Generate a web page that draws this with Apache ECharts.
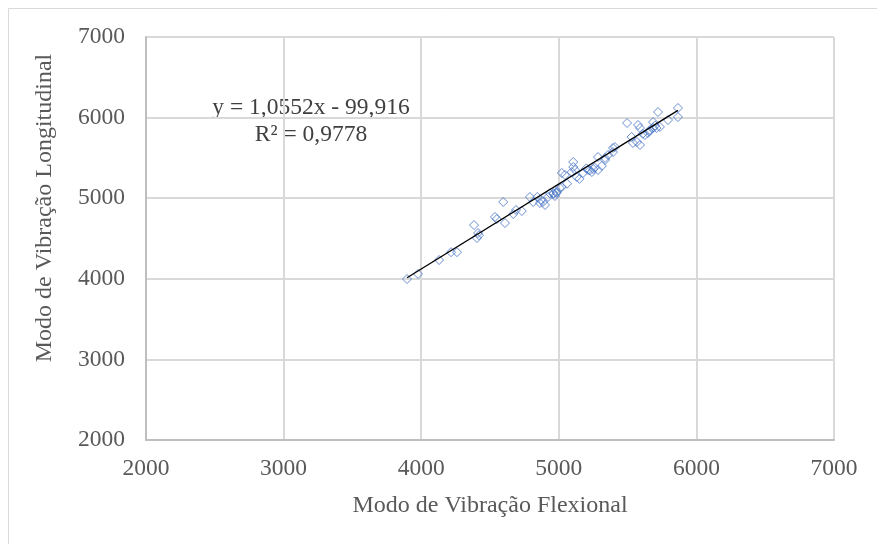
<!DOCTYPE html>
<html><head><meta charset="utf-8">
<script src="https://cdn.jsdelivr.net/npm/echarts@6/dist/echarts.min.js"></script>
<style>html,body{margin:0;padding:0;background:#fff}#c{width:877px;height:544px}</style>
</head><body><div id="c"></div>
<script>
const xTitle = 'Modo de Vibração Flexional';
const yTitle = 'Modo de Vibração Longitudinal';
const eqText = 'y = 1,0552x - 99,916';
const r2Text = 'R² = 0,9778';
const slope = 1.0552, intercept = -99.916;
const flexional = [3897,3977,4130,4217,4260,4384,4413,4405,4420,4536,4550,4596,4609,4669,4689,4731,4790,4814,4844,4863,4885,4900,4922,4960,4985,5008,4972,4960,4985,5022,5022,5045,5094,5105,5105,5118,5131,5176,5212,5240,5250,5285,5285,5313,5336,5358,5394,5408,5336,5394,5496,5529,5539,5568,5576,5590,5590,5626,5648,5663,5685,5685,5721,5735,5794,5866,5866,4870,4935,5060,5150,5200,5225,5260,5700,5710,5655,5610];
const longitudinal = [3997,4060,4233,4330,4330,4667,4568,4506,4540,4767,4742,4953,4692,4804,4854,4841,5015,4953,5015,4940,4953,4916,5015,5052,5065,5127,5027,5065,5077,5139,5313,5288,5325,5387,5449,5350,5263,5313,5350,5325,5362,5350,5511,5400,5499,5536,5573,5635,5474,5623,5933,5760,5685,5697,5908,5871,5660,5784,5809,5846,5871,5945,6069,5884,5970,6119,6007,4980,5060,5180,5240,5370,5345,5380,5900,5870,5830,5800];
const xMin = 2000, xMax = 7000, yMin = 2000, yMax = 7000, tickStep = 1000;

const pts = flexional.map((x,i)=>[x, longitudinal[i]]);
const fx0 = Math.min(...flexional), fx1 = Math.max(...flexional);
const trend = [[fx0, slope*fx0+intercept],[fx1, slope*fx1+intercept]];
const font = 'Liberation Serif';
const chart = echarts.init(document.getElementById('c'));
chart.setOption({
  animation:false,
  grid:{left:146,top:37,right:43,bottom:104,containLabel:false},
  graphic:[
    {type:'rect',shape:{x:8.5,y:8.5,width:900,height:560},style:{fill:'none',stroke:'#d9d9d9',lineWidth:1}},
    {type:'text',x:311,y:108,style:{text:eqText,font:'23.5px "Liberation Serif"',fill:'#404040',align:'center',verticalAlign:'middle'}},
    {type:'text',x:311,y:135,style:{text:r2Text,font:'23.5px "Liberation Serif"',fill:'#404040',align:'center',verticalAlign:'middle'}},
    {type:'text',x:45,y:208,rotation:Math.PI/2,style:{text:yTitle,font:'24px "Liberation Serif"',fill:'#595959',align:'center',verticalAlign:'middle'}}
  ],
  xAxis:{type:'value',min:xMin,max:xMax,interval:tickStep,
    name:xTitle,nameLocation:'middle',nameGap:54,
    nameTextStyle:{fontFamily:font,fontSize:24,color:'#595959'},
    axisLine:{show:true,lineStyle:{color:'#bfbfbf',width:2}},
    axisTick:{show:false},
    axisLabel:{fontFamily:font,fontSize:23.5,color:'#595959',margin:17,formatter:v=>String(v)},
    splitLine:{show:true,lineStyle:{color:'#d9d9d9',width:2}}},
  yAxis:{type:'value',min:yMin,max:yMax,interval:tickStep,
    axisLine:{show:true,lineStyle:{color:'#bfbfbf',width:2}},
    axisTick:{show:false},
    axisLabel:{fontFamily:font,fontSize:23.5,color:'#595959',margin:21,formatter:v=>String(v)},
    splitLine:{show:true,lineStyle:{color:'#d9d9d9',width:2}}},
  series:[
    {type:'scatter',data:pts,symbol:'diamond',symbolSize:9,
     itemStyle:{color:'rgba(255,255,255,0)',borderColor:'#4472c4',borderWidth:1},z:3},
    {type:'line',data:trend,symbol:'none',lineStyle:{color:'#000',width:1.3},z:4}
  ]
});
</script></body></html>
